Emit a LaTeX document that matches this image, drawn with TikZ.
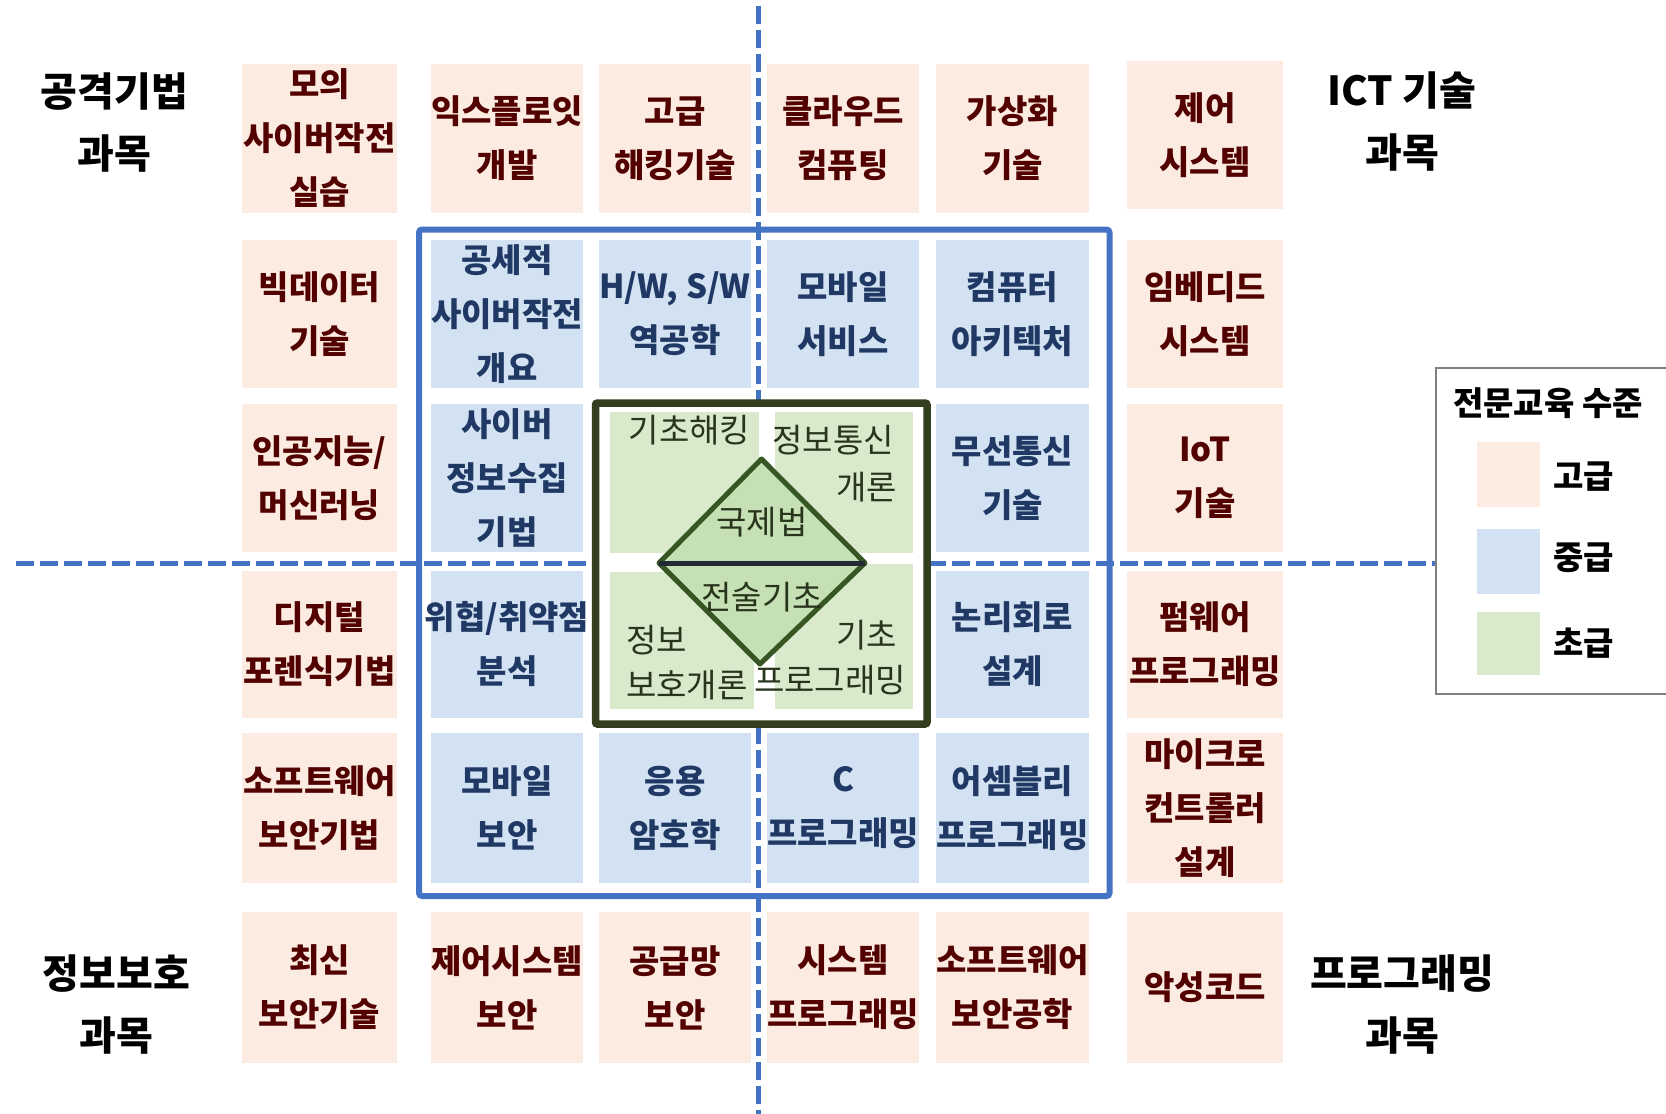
\documentclass[tikz,border=0pt]{standalone}
\usepackage{fontspec}
\setmainfont{Noto Sans CJK KR}
\definecolor{tanF}{RGB}{251,235,224}
\definecolor{bluF}{RGB}{210,226,242}
\definecolor{grnF}{RGB}{216,233,204}
\definecolor{dmdF}{RGB}{197,224,180}
\definecolor{redT}{RGB}{82,0,0}
\definecolor{bluT}{RGB}{31,56,100}
\definecolor{grnT}{RGB}{40,52,28}
\definecolor{lineB}{RGB}{68,114,196}
\definecolor{grnE}{RGB}{50,62,30}
\definecolor{dmdE}{RGB}{55,86,35}
\definecolor{navyL}{RGB}{34,42,53}
\newcommand\cfnt{\fontsize{33pt}{54pt}\selectfont\bfseries}
\newcommand\gfnt{\fontsize{33pt}{46pt}\selectfont}
\newcommand\kfnt{\fontsize{40pt}{62pt}\selectfont\bfseries}
\newcommand\lfnt{\fontsize{33pt}{36pt}\selectfont\bfseries}
\newcommand\mkcell[7]{%
  \node[#1box, minimum width=#5pt, minimum height=#6pt] (#2) at (#3,#4) {};
  \node[#1text] (#2-t) at (#2.center) {#7};}
\tikzset{
  tanbox/.style={fill=tanF, draw=none, inner sep=0pt},
  blubox/.style={fill=bluF, draw=none, inner sep=0pt},
  tantext/.style={text=redT, inner sep=0pt, align=center, font=\cfnt},
  blutext/.style={text=bluT, inner sep=0pt, align=center, font=\cfnt},
  grntext/.style={text=grnT, inner sep=0pt, align=center, font=\gfnt},
  corner/.style={text=black, inner sep=0pt, align=center, font=\kfnt},
  legtext/.style={text=black, inner sep=0pt, font=\lfnt},
  axis/.style={draw=lineB, line width=5pt, dash pattern=on 18pt off 6pt},
}
\begin{document}
\begin{tikzpicture}[x=1pt,y=-1pt]
\useasboundingbox[fill=white] (0,0) rectangle (1666,1114);

% dashed axes
\coordinate (vT) at (758.5,6);
\coordinate (vB) at (758.5,1114);
\coordinate (hL) at (16,563);
\coordinate (hR) at (1436,563);
\draw[axis] (vT) -- (vB);
\draw[axis] (hL) -- (hR);

% blue frame and green frame
\draw[lineB, line width=6pt, rounded corners=3pt] (419,229.5) rectangle (1109.5,896);
\draw[grnE, line width=7.5pt, fill=white, rounded corners=2pt] (595.5,403) rectangle (927,724);

% row 0
\mkcell{tan}{t00}{319.5}{138.5}{155}{149}{모의\\사이버작전\\실습}
\mkcell{tan}{t01}{507}{138.5}{152}{149}{익스플로잇\\개발}
\mkcell{tan}{t02}{675}{138.5}{152}{149}{고급\\해킹기술}
\mkcell{tan}{t03}{843}{138.5}{152}{149}{클라우드\\컴퓨팅}
\mkcell{tan}{t04}{1012.5}{138.5}{153}{149}{가상화\\기술}
\mkcell{tan}{t05}{1205}{135}{156}{148}{제어\\시스템}
% row 1
\mkcell{tan}{t10}{319.5}{314}{155}{148}{빅데이터\\기술}
\mkcell{blu}{b11}{507}{314}{152}{148}{공세적\\사이버작전\\개요}
\mkcell{blu}{b12}{675}{314}{152}{148}{H/W, S/W\\역공학}
\mkcell{blu}{b13}{843}{314}{152}{148}{모바일\\서비스}
\mkcell{blu}{b14}{1012.5}{314}{153}{148}{컴퓨터\\아키텍처}
\mkcell{tan}{t15}{1205}{314}{156}{148}{임베디드\\시스템}
% row 2
\mkcell{tan}{t20}{319.5}{478}{155}{148}{인공지능/\\머신러닝}
\mkcell{blu}{b21}{507}{478}{152}{148}{사이버\\정보수집\\기법}
\mkcell{blu}{b24}{1012.5}{478}{153}{148}{무선통신\\기술}
\mkcell{tan}{t25}{1205}{478}{156}{148}{IoT\\기술}
% row 3
\mkcell{tan}{t30}{319.5}{644.5}{155}{147}{디지털\\포렌식기법}
\mkcell{blu}{b31}{507}{644.5}{152}{147}{위협/취약점\\분석}
\mkcell{blu}{b34}{1012.5}{644.5}{153}{147}{논리회로\\설계}
\mkcell{tan}{t35}{1205}{644.5}{156}{147}{펌웨어\\프로그래밍}
% row 4
\mkcell{tan}{t40}{319.5}{808}{155}{150}{소프트웨어\\보안기법}
\mkcell{blu}{b41}{507}{808}{152}{150}{모바일\\보안}
\mkcell{blu}{b42}{675}{808}{152}{150}{응용\\암호학}
\mkcell{blu}{b43}{843}{808}{152}{150}{C\\프로그래밍}
\mkcell{blu}{b44}{1012.5}{808}{153}{150}{어셈블리\\프로그래밍}
\mkcell{tan}{t45}{1205}{808}{156}{150}{마이크로\\컨트롤러\\설계}
% row 5
\mkcell{tan}{t50}{319.5}{987.5}{155}{151}{최신\\보안기술}
\mkcell{tan}{t51}{507}{987.5}{152}{151}{제어시스템\\보안}
\mkcell{tan}{t52}{675}{987.5}{152}{151}{공급망\\보안}
\mkcell{tan}{t53}{843}{987.5}{152}{151}{시스템\\프로그래밍}
\mkcell{tan}{t54}{1012.5}{987.5}{153}{151}{소프트웨어\\보안공학}
\mkcell{tan}{t55}{1205}{987.5}{156}{151}{악성코드}

% green core
\fill[grnF] (610,412) rectangle (759,553);
\fill[grnF] (775,412) rectangle (913,553);
\fill[grnF] (610,572) rectangle (754,709);
\fill[grnF] (775,564) rectangle (913,709);
\coordinate (dL) at (659,563);
\coordinate (dT) at (761.5,459);
\coordinate (dR) at (865,563);
\coordinate (dB) at (760,664);
\draw[dmdE, line width=5pt, fill=dmdF, line join=round] (dL) -- (dT) -- (dR) -- (dB) -- cycle;
\draw[navyL, line width=5pt] (dL) -- (dR);
\node[grntext] (g1) at (689.5,430) {기초해킹};
\node[grntext] (g2) at (833,440) {정보통신};
\node[grntext, anchor=east] (g3) at (897,487) {개론};
\node[grntext] (g4) at (762,522) {국제법};
\node[grntext] (g5) at (762,597) {전술기초};
\node[grntext, anchor=west] (g6) at (626,640) {정보};
\node[grntext, anchor=west] (g7) at (626,685) {보호개론};
\node[grntext, anchor=east] (g8) at (897,635) {기초};
\node[grntext] (g9) at (830,680) {프로그래밍};

% corner labels
\node[corner] (k1) at (114.5,123) {공격기법\\과목};
\node[corner] (k2) at (1402,122) {ICT 기술\\과목};
\node[corner] (k3) at (116.5,1005) {정보보호\\과목};
\node[corner] (k4) at (1402,1005) {프로그래밍\\과목};

% legend
\draw[draw={rgb,255:red,128;green,128;blue,128}, line width=2pt, fill=white] (1436,368) rectangle (1700,694);
\node[legtext] (lt) at (1548,403) {전문교육 수준};
\fill[tanF] (1477,442) rectangle (1540,507);
\fill[bluF] (1477,529) rectangle (1540,594);
\fill[grnF] (1477,612) rectangle (1540,675);
\node[legtext, anchor=west] (l1) at (1553,477) {고급};
\node[legtext, anchor=west] (l2) at (1553,558) {중급};
\node[legtext, anchor=west] (l3) at (1553,643) {초급};
\end{tikzpicture}
\end{document}
